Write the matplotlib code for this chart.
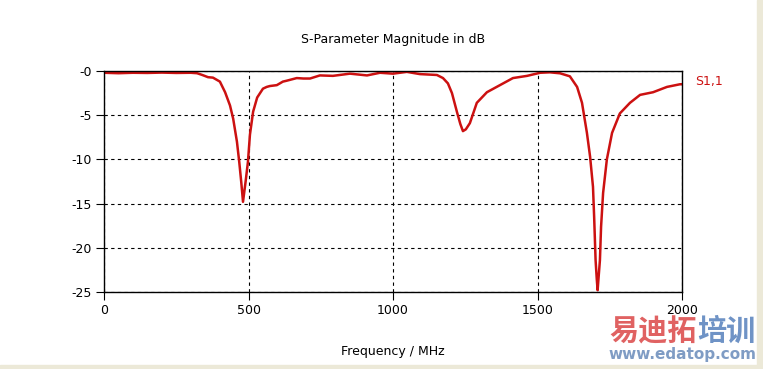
import matplotlib
matplotlib.use("Agg")
import matplotlib.pyplot as plt
from matplotlib.patches import Rectangle

# S1,1 (MHz, dB)
freq = [0, 50, 100, 150, 200, 250, 300, 322, 340, 360, 377, 401, 419, 436,
        447, 460, 468, 475, 481, 490, 498, 505, 516, 530, 550, 563, 574, 598,
        619, 632, 667, 690, 713, 747, 792, 851, 910, 955, 1000, 1048, 1093,
        1152, 1173, 1190, 1204, 1221, 1233, 1242, 1252, 1266, 1290, 1325, 1370,
        1415, 1464, 1509, 1543, 1578, 1612, 1637, 1654, 1671, 1682, 1692, 1696,
        1701, 1705, 1708, 1711, 1716, 1720, 1727, 1740, 1758, 1785, 1820, 1855,
        1900, 1948, 1993, 2000]
s11 = [-0.2, -0.25, -0.2, -0.22, -0.18, -0.22, -0.2, -0.25, -0.45, -0.7, -0.75,
       -1.2, -2.4, -3.9, -5.4, -8.0, -10.3, -12.6, -14.8, -12.5, -10.3, -7.2,
       -4.6, -3.0, -2.0, -1.8, -1.7, -1.6, -1.2, -1.1, -0.8, -0.85, -0.85, -0.5,
       -0.55, -0.3, -0.5, -0.2, -0.3, -0.1, -0.35, -0.45, -0.8, -1.4, -2.5,
       -4.6, -6.0, -6.8, -6.6, -5.9, -3.6, -2.4, -1.6, -0.8, -0.55, -0.2,
       -0.15, -0.26, -0.6, -1.8, -3.6, -7.0, -9.7, -13.1, -16.5, -21.4, -23.5,
       -24.8, -23.5, -21.4, -17.6, -13.8, -10.0, -7.0, -4.8, -3.6, -2.7, -2.4,
       -1.8, -1.5, -1.5]

xticks = [0, 500, 1000, 1500, 2000]
yticks = [0, -5, -10, -15, -20, -25]
ylabels = ["-0", "-5", "-10", "-15", "-20", "-25"]

plt.rcParams['font.family'] = ['DejaVu Sans']
fig = plt.figure(figsize=(7.63, 3.69), dpi=100)
ax = fig.add_axes([104/763, 1-292/369, (682-104)/763, (292-71)/369])

ax.plot(freq, s11, color='#cc1111', linewidth=1.8)
ax.set_xlim(0, 2000)
ax.set_ylim(-25, 0)
ax.set_xticks(xticks)
ax.set_yticks(yticks)
ax.set_yticklabels(ylabels)
ax.grid(True, color='black', linestyle=(0, (3, 3)), linewidth=0.8)
ax.tick_params(direction='out', length=6, width=0.8, labelsize=9, pad=3)
for s in ax.spines.values():
    s.set_linewidth(1.0)

ax.set_title("S-Parameter Magnitude in dB", fontsize=9, pad=20)
ax.set_xlabel("Frequency / MHz", fontsize=9, labelpad=20)
fig.text(695/763, 1-81/369, "S1,1", color='#cc1111', fontsize=9,
         ha='left', va='center')

# watermark
fig.text(609/763, 1-331/369, "易迪拓", color='#e06262', fontsize=21,
         fontweight='bold', family=['Noto Sans CJK SC'], ha='left', va='center')
fig.text(697/763, 1-331/369, "培训", color='#6f93c6', fontsize=21,
         fontweight='bold', family=['Noto Sans CJK SC'], ha='left', va='center')
fig.text(682/763, 1-355/369, "www.edatop.com", color='#7f9cc4', fontsize=11,
         fontweight='bold', ha='center', va='center')

# window border
fig.patches.append(Rectangle((757/763, 0), 6/763, 1, transform=fig.transFigure,
                             color='#ece9d8', zorder=-1))
fig.patches.append(Rectangle((0, 0), 1, 4/369, transform=fig.transFigure,
                             color='#ece9d8', zorder=-1))

fig.savefig("out.png", dpi=100)
